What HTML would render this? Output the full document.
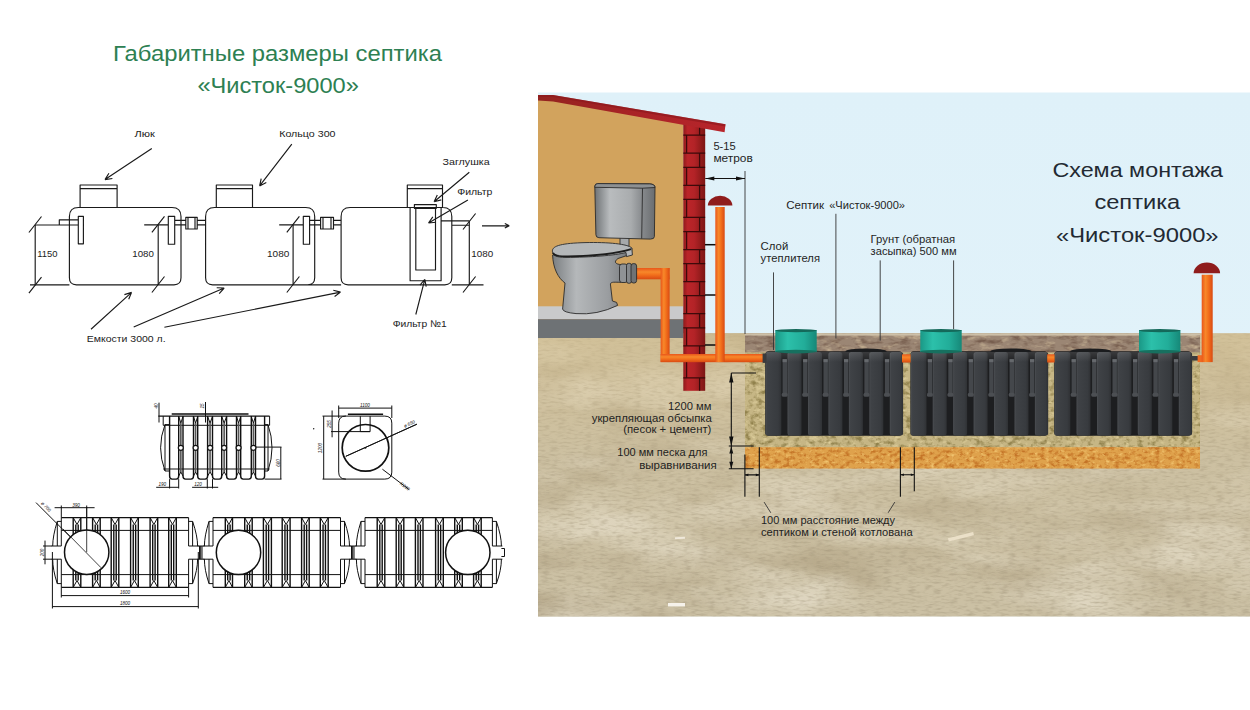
<!DOCTYPE html>
<html lang="ru">
<head>
<meta charset="utf-8">
<title>Габаритные размеры септика «Чисток-9000»</title>
<style>
html,body{margin:0;padding:0;background:#fff;}
body{width:1250px;height:710px;overflow:hidden;font-family:"Liberation Sans",sans-serif;}
svg{display:block;}
.lbl{font-family:"Liberation Sans",sans-serif;font-size:10.4px;fill:#1f1f1f;}
.dl{font-family:"Liberation Sans",sans-serif;font-size:9.8px;fill:#222;}
.tiny{font-family:"Liberation Sans",sans-serif;font-size:4.6px;fill:#111;font-style:italic;}
.ln{stroke:#1a1a1a;stroke-width:1;fill:none;}
.tk{stroke:#111;stroke-width:0.8;fill:none;}
</style>
</head>
<body>
<svg width="1250" height="710" viewBox="0 0 1250 710">
<defs>

<linearGradient id="gBrick" x1="0" x2="1" y1="0" y2="0">
 <stop offset="0" stop-color="#8f1a1c"/><stop offset="0.2" stop-color="#bb2529"/><stop offset="0.5" stop-color="#b32327"/><stop offset="1" stop-color="#7c1614"/>
</linearGradient>
<linearGradient id="gPipeV" x1="0" x2="1" y1="0" y2="0">
 <stop offset="0" stop-color="#e9561a"/><stop offset="0.35" stop-color="#f7882a"/><stop offset="0.6" stop-color="#f3701c"/><stop offset="1" stop-color="#d94a12"/>
</linearGradient>
<linearGradient id="gPipeH" x1="0" x2="0" y1="0" y2="1">
 <stop offset="0" stop-color="#e9561a"/><stop offset="0.35" stop-color="#f7882a"/><stop offset="0.6" stop-color="#f3701c"/><stop offset="1" stop-color="#d94a12"/>
</linearGradient>
<linearGradient id="gTankT" x1="0" x2="1" y1="0" y2="0">
 <stop offset="0" stop-color="#6f7376"/><stop offset="0.25" stop-color="#b9bcbe"/><stop offset="0.6" stop-color="#a9acae"/><stop offset="0.8" stop-color="#85888b"/><stop offset="1" stop-color="#6a6d70"/>
</linearGradient>
<linearGradient id="gBowl" x1="0" x2="1" y1="0" y2="0">
 <stop offset="0" stop-color="#7b7f82"/><stop offset="0.3" stop-color="#b5b8ba"/><stop offset="0.7" stop-color="#9a9da0"/><stop offset="1" stop-color="#707376"/>
</linearGradient>
<linearGradient id="gCap" x1="0" x2="1" y1="0" y2="0">
 <stop offset="0" stop-color="#1a9886"/><stop offset="0.3" stop-color="#2cc0aa"/><stop offset="0.7" stop-color="#22ad99"/><stop offset="1" stop-color="#168878"/>
</linearGradient>
<linearGradient id="gRib" x1="0" x2="1" y1="0" y2="0">
 <stop offset="0" stop-color="#4a4d51"/><stop offset="0.12" stop-color="#3f4246"/><stop offset="0.8" stop-color="#383b3f"/><stop offset="1" stop-color="#2f3134"/>
</linearGradient>
<linearGradient id="gTopHi" x1="0" x2="0" y1="0" y2="1">
 <stop offset="0" stop-color="#ffffff" stop-opacity="0.13"/><stop offset="1" stop-color="#ffffff" stop-opacity="0"/>
</linearGradient>
<linearGradient id="gWarm" x1="0" x2="0" y1="0" y2="1">
 <stop offset="0" stop-color="#d6c08e" stop-opacity="0.55"/><stop offset="0.45" stop-color="#d6c08e" stop-opacity="0.12"/><stop offset="1" stop-color="#d6c08e" stop-opacity="0"/>
</linearGradient>
<linearGradient id="gRoof" x1="0" x2="1" y1="0" y2="0">
 <stop offset="0" stop-color="#93231f"/><stop offset="0.5" stop-color="#a82326"/><stop offset="1" stop-color="#b8252b"/>
</linearGradient>
<linearGradient id="gSky" x1="0" x2="0" y1="0" y2="1">
 <stop offset="0" stop-color="#dff1f9"/><stop offset="1" stop-color="#e3f3fa"/>
</linearGradient>
<filter id="fGround" x="0" y="0" width="100%" height="100%" color-interpolation-filters="sRGB">
 <feTurbulence type="fractalNoise" baseFrequency="0.007 0.022" numOctaves="4" seed="7" result="n1"/>
 <feColorMatrix in="n1" type="matrix" values="0 0 0 0 0.66  0 0 0 0 0.60  0 0 0 0 0.48  2.2 0 0 0 -1.0" result="dark"/>
 <feColorMatrix in="n1" type="matrix" values="0 0 0 0 0.89  0 0 0 0 0.86  0 0 0 0 0.78  0 -2.6 0 0 1.45" result="light"/>
 <feTurbulence type="fractalNoise" baseFrequency="0.12 0.5" numOctaves="2" seed="21" result="n2"/>
 <feColorMatrix in="n2" type="matrix" values="0 0 0 0 0.55  0 0 0 0 0.50  0 0 0 0 0.40  0 0 1.0 0 -0.44" result="grain"/>
 <feMerge result="m"><feMergeNode in="dark"/><feMergeNode in="light"/><feMergeNode in="grain"/></feMerge>
 <feComposite in="m" in2="SourceGraphic" operator="in"/>
</filter>
<filter id="fGrain" x="0" y="0" width="100%" height="100%" color-interpolation-filters="sRGB">
 <feTurbulence type="fractalNoise" baseFrequency="0.16 0.22" numOctaves="3" seed="3" result="n"/>
 <feColorMatrix in="n" type="matrix" values="0 0 0 0 0.55  0 0 0 0 0.49  0 0 0 0 0.28  2.8 0 0 0 -1.25" result="d"/>
 <feColorMatrix in="n" type="matrix" values="0 0 0 0 0.88  0 0 0 0 0.82  0 0 0 0 0.62  0 -3.2 0 0 1.45" result="l"/>
 <feMerge result="m"><feMergeNode in="d"/><feMergeNode in="l"/></feMerge>
 <feComposite in="m" in2="SourceGraphic" operator="in"/>
</filter>
<filter id="fGrainO" x="0" y="0" width="100%" height="100%" color-interpolation-filters="sRGB">
 <feTurbulence type="fractalNoise" baseFrequency="0.2 0.28" numOctaves="3" seed="11" result="n"/>
 <feColorMatrix in="n" type="matrix" values="0 0 0 0 0.76  0 0 0 0 0.44  0 0 0 0 0.14  3.0 0 0 0 -1.35" result="d"/>
 <feColorMatrix in="n" type="matrix" values="0 0 0 0 0.95  0 0 0 0 0.78  0 0 0 0 0.45  0 -3.2 0 0 1.4" result="l"/>
 <feMerge result="m"><feMergeNode in="d"/><feMergeNode in="l"/></feMerge>
 <feComposite in="m" in2="SourceGraphic" operator="in"/>
</filter>
<filter id="fGrainB" x="0" y="0" width="100%" height="100%" color-interpolation-filters="sRGB">
 <feTurbulence type="fractalNoise" baseFrequency="0.09 0.2" numOctaves="3" seed="5" result="n"/>
 <feColorMatrix in="n" type="matrix" values="0 0 0 0 0.45  0 0 0 0 0.35  0 0 0 0 0.29  2.6 0 0 0 -1.2" result="d"/>
 <feColorMatrix in="n" type="matrix" values="0 0 0 0 0.78  0 0 0 0 0.70  0 0 0 0 0.58  0 -3.2 0 0 1.45" result="l"/>
 <feMerge result="m"><feMergeNode in="d"/><feMergeNode in="l"/></feMerge>
 <feComposite in="m" in2="SourceGraphic" operator="in"/>
</filter>
<marker id="ah" viewBox="0 0 10 10" refX="9" refY="5" markerWidth="7" markerHeight="7" orient="auto-start-reverse">
 <path d="M1,1 L9,5 L1,9" fill="none" stroke="#1a1a1a" stroke-width="1.3"/>
</marker>

</defs>
<rect width="1250" height="710" fill="#fff"/>
<g font-family="Liberation Sans, sans-serif" font-size="21.4" fill="#2d8052">
<text x="113" y="61" textLength="329" lengthAdjust="spacingAndGlyphs">Габаритные размеры септика</text>
<text x="197.4" y="92.8" textLength="161.5" lengthAdjust="spacingAndGlyphs">«Чисток-9000»</text>
</g>
<g id="diagram" stroke="#1a1a1a" stroke-width="1.15" fill="none" stroke-linejoin="round">
<path d="M78.4,207.5 H172 Q181,207.5 181,216.5 V277.8 Q181,284.8 174,284.8 H76.4 Q69.4,284.8 69.4,277.8 V216.5 Q69.4,207.5 78.4,207.5 Z M214.6,207.5 H305.7 Q314.7,207.5 314.7,216.5 V277.8 Q314.7,284.8 307.7,284.8 H212.6 Q205.6,284.8 205.6,277.8 V216.5 Q205.6,207.5 214.6,207.5 Z M350.1,207.5 H442.8 Q451.8,207.5 451.8,216.5 V277.8 Q451.8,284.8 444.8,284.8 H348.1 Q341.1,284.8 341.1,277.8 V216.5 Q341.1,207.5 350.1,207.5 Z M80.1,207.5V185H117.1V207.5 M80.1,188.6H117.1 M216.3,207.5V185H252.5V207.5 M216.3,188.6H252.5 M407.3,207.5V185H442.5V207.5 M407.3,188.6H442.5 M78.3,219.8H59.3V225H78.3 M78.3,216.3H83.4V243.8H78.3Z M35.2,225V284.8 M35.2,225H59.3 M30,284.8H69.4 M158.2,224.8V284.8 M144.2,224.8H168.3 M168.3,216.3H174.7V244.2H168.3Z M174.7,220.3H185.8 M174.7,224.8H185.8 M185.8,217.3H197.2V229H185.8Z M188,217.3V229 M195,217.3V229 M197.2,220.3H205.6 M197.2,224.8H205.6 M293.1,224.8V284.8 M279.2,224.8H303.3 M303.3,216.3H309.6V244.2H303.3Z M309.6,220.3H320.6 M309.6,224.8H320.6 M320.6,217.3H333.5V229H320.6Z M323,217.3V229 M331,217.3V229 M333.5,220.3H341.1 M333.5,224.8H341.1 M293.1,284.8H341.1 M451.8,284.8H483.5 M410.1,207.5V280.7H441.1V207.5 M415.8,208.3V270H435.5V208.3 M414.4,204.6H436.3V208.3H414.4Z M441.1,220.8H469.3 M451.8,225.2H469.3 M469.3,220.8V284.8"/>
<path d="M28.900000000000002,232.5L41.5,216.5 M28.900000000000002,293.1L41.5,277.1 M151.89999999999998,232.3L164.5,216.3 M151.89999999999998,292.5L164.5,276.5 M286.8,232.3L299.40000000000003,216.3 M286.8,292.5L299.40000000000003,276.5 M463.0,229.5L475.6,213.5 M463.0,292.5L475.6,276.5"/>
<path d="M151.8,148.4L105.0,179.6 M105.0,179.6L108.9,173.2 M105.0,179.6L112.4,178.5 M291.8,144.1L259.6,185.9 M259.6,185.9L261.2,178.6 M259.6,185.9L266.3,182.4 M469.3,172.3L434.1,201.8 M434.1,201.8L437.3,195.0 M434.1,201.8L441.3,199.9 M467.9,199.9L428.5,223.0 M428.5,223.0L432.8,216.8 M428.5,223.0L436.0,222.3 M415.8,314.5L424.8,279.3 M424.8,279.3L426.2,286.7 M424.8,279.3L420.0,285.1 M91.0,329.2L131.6,292.4 M131.6,292.4L128.7,299.3 M131.6,292.4L124.4,294.6 M133.7,327.0L224.2,288.0 M224.2,288.0L219.2,293.6 M224.2,288.0L216.7,287.8 M164.4,327.3L340.6,292.1 M340.6,292.1L334.6,296.5 M340.6,292.1L333.3,290.3 M482.0,225.8L509.3,225.8 M509.3,225.8L504.8,228.0 M509.3,225.8L504.8,223.6"/>
</g>
<text x="134.6" y="136.5" class="dl" textLength="20.3" lengthAdjust="spacingAndGlyphs">Люк</text>
<text x="279.2" y="136.5" class="dl" textLength="56.3" lengthAdjust="spacingAndGlyphs">Кольцо 300</text>
<text x="442.5" y="165.2" class="dl" textLength="47.1" lengthAdjust="spacingAndGlyphs">Заглушка</text>
<text x="457.2" y="195.2" class="dl" textLength="35.2" lengthAdjust="spacingAndGlyphs">Фильтр</text>
<text x="392.7" y="326.6" class="dl" textLength="54.1" lengthAdjust="spacingAndGlyphs">Фильтр №1</text>
<text x="86.8" y="341.6" class="dl" textLength="78.8" lengthAdjust="spacingAndGlyphs">Емкости 3000 л.</text>
<text x="37.2" y="256.9" class="dl" textLength="20.3" lengthAdjust="spacingAndGlyphs">1150</text>
<text x="132.3" y="256.9" class="dl" textLength="21.6" lengthAdjust="spacingAndGlyphs">1080</text>
<text x="267" y="256.9" class="dl" textLength="22.3" lengthAdjust="spacingAndGlyphs">1080</text>
<text x="471.3" y="256.9" class="dl" textLength="21.9" lengthAdjust="spacingAndGlyphs">1080</text><g id="drawings" stroke="#111" fill="none" stroke-linejoin="round">
<path d="M169.6,424.6 H165 Q160.6,436 160.6,447.8 Q160.6,459 165,471 H169.6 M264.6,424.6 H268 Q272,436 272,447.8 Q272,459 268,471 H264.6 M165,424.6V471 M268,424.6V471 M163.2,425.3H269.6 M163.2,469H269.6 M163.2,416.1V425.3 M269.6,416.1V425.3 M178.7,416.5L180.85,423 L183,416.5 M178.7,476L180.85,472L183,476 M193.5,416.5L195.6,423 L197.7,416.5 M193.5,476L195.6,472L197.7,476 M207.6,416.5L210.05,423 L212.5,416.5 M207.6,476L210.05,472L212.5,476 M221.7,416.5L224.14999999999998,423 L226.6,416.5 M221.7,476L224.14999999999998,472L226.6,476 M236.5,416.5L238.6,423 L240.7,416.5 M236.5,476L238.6,472L240.7,476 M251.3,416.5L253.4,423 L255.5,416.5 M251.3,476L253.4,472L255.5,476 M159,402.7V422.5 M205.5,402V422.5 M254,447.1H281.5 M264.6,479.1H281.5 M280.8,447.1V479.1 M169.6,479.1V488.5 M178.7,479.1V488.5 M156.2,487.3H178.7 M207.3,479.1V488.5 M212.5,479.1V488.5 M192.1,487.3H218.2 M345.7,416.1 H384.8 Q391.8,416.1 391.8,423.1 V472.1 Q391.8,479.1 384.8,479.1 H345.7 Q338.7,479.1 338.7,472.1 V423.1 Q338.7,416.1 345.7,416.1Z M360.3,416.1V431.6H370.1V416.1 M338.7,405.5V418 M391.8,405.5V418 M338.7,408.1H391.8 M323.7,416.1V479.1 M322.5,416.1H346 M322.5,479.1H346 M332.1,410.5V437.3 M331,431.6H370.1 M345.8,456.3L416.9,424.2 M382.4,469.2L409.2,489.6 M61.3,517.6V546 M61.3,559.2V587.4 M188.6,517.6V546 M188.6,559.2V587.4 M61.3,521.4 H57.3 Q52.699999999999996,536 52.699999999999996,546 M52.699999999999996,559.2 Q52.699999999999996,570 57.3,583.6 H61.3 M57.3,521.4V546 M57.3,559.2V583.6 M188.6,521.4 H192.6 Q197.6,536 197.6,546 M197.6,559.2 Q197.6,570 192.6,583.6 H188.6 M192.6,521.4V546 M192.6,559.2V583.6 M51.699999999999996,546H61.3 M51.699999999999996,559.2H61.3 M188.6,546H198.6 M188.6,559.2H198.6 M61.3,530.4H188.6 M61.3,574.6H188.6 M73.2,517.6L77.0,524.5L80.8,517.6 M73.2,587.4L77.0,580.5L80.8,587.4 M92.6,517.6L96.4,524.5L100.2,517.6 M92.6,587.4L96.4,580.5L100.2,587.4 M111.2,517.6L115.0,524.5L118.8,517.6 M111.2,587.4L115.0,580.5L118.8,587.4 M130.6,517.6L134.45,524.5L138.3,517.6 M130.6,587.4L134.45,580.5L138.3,587.4 M150.1,517.6L153.89999999999998,524.5L157.7,517.6 M150.1,587.4L153.89999999999998,580.5L157.7,587.4 M168.7,517.6L172.5,524.5L176.3,517.6 M168.7,587.4L172.5,580.5L176.3,587.4 M213,517.6V546 M213,559.2V587.4 M340.5,517.6V546 M340.5,559.2V587.4 M213,521.4 H209 Q204.4,536 204.4,546 M204.4,559.2 Q204.4,570 209,583.6 H213 M209,521.4V546 M209,559.2V583.6 M340.5,521.4 H344.5 Q349.5,536 349.5,546 M349.5,559.2 Q349.5,570 344.5,583.6 H340.5 M344.5,521.4V546 M344.5,559.2V583.6 M203.4,546H213 M203.4,559.2H213 M340.5,546H350.5 M340.5,559.2H350.5 M213,530.4H340.5 M213,574.6H340.5 M225.3,517.6L228.9,524.5L232.5,517.6 M225.3,587.4L228.9,580.5L232.5,587.4 M244.7,517.6L248.45,524.5L252.2,517.6 M244.7,587.4L248.45,580.5L252.2,587.4 M263.4,517.6L267.4,524.5L271.4,517.6 M263.4,587.4L267.4,580.5L271.4,587.4 M282.2,517.6L286.15,524.5L290.1,517.6 M282.2,587.4L286.15,580.5L290.1,587.4 M301.6,517.6L305.4,524.5L309.2,517.6 M301.6,587.4L305.4,580.5L309.2,587.4 M320.3,517.6L324.25,524.5L328.2,517.6 M320.3,587.4L324.25,580.5L328.2,587.4 M365,517.6V546 M365,559.2V587.4 M492.4,517.6V546 M492.4,559.2V587.4 M365,521.4 H361 Q356.4,536 356.4,546 M356.4,559.2 Q356.4,570 361,583.6 H365 M361,521.4V546 M361,559.2V583.6 M492.4,521.4 H496.4 Q501.4,536 501.4,546 M501.4,559.2 Q501.4,570 496.4,583.6 H492.4 M496.4,521.4V546 M496.4,559.2V583.6 M355.4,546H365 M355.4,559.2H365 M492.4,546H502.4 M492.4,559.2H502.4 M365,530.4H492.4 M365,574.6H492.4 M377.2,517.6L381.0,524.5L384.8,517.6 M377.2,587.4L381.0,580.5L384.8,587.4 M396.2,517.6L400.0,524.5L403.8,517.6 M396.2,587.4L400.0,580.5L403.8,587.4 M415.4,517.6L419.2,524.5L423,517.6 M415.4,587.4L419.2,580.5L423,587.4 M435.6,517.6L439.45000000000005,524.5L443.3,517.6 M435.6,587.4L439.45000000000005,580.5L443.3,587.4 M454.7,517.6L458.5,524.5L462.3,517.6 M454.7,587.4L458.5,580.5L462.3,587.4 M473.6,517.6L477.4,524.5L481.2,517.6 M473.6,587.4L477.4,580.5L481.2,587.4 M197.6,546H204.4 M197.6,559.2H204.4 M199.5,546V559.2 M200.7,546V559.2 M202,546V559.2 M349.5,546H356.4 M349.5,559.2H356.4 M351.5,546V559.2 M352.7,546V559.2 M354,546V559.2 M501.4,548.5H504.5V556.5H501.4 M54.6,507.7H94.6 M61.3,505.5V517.6 M86.7,505.5V552.2 M36,502.6L101,567.7 M45,540.6V564.3 M43,546H52 M43,559.2H52 M61.3,587.4V597.5 M188.6,587.4V597.5 M61.3,595.6H188.6 M52.4,552V608.5 M198.3,552V608.5 M52.4,606.6H198.3" stroke-width="1"/>
<path d="M158.3,416.1H269.6 M171.7,414H248.5 M169.6,416.5V476 Q169.6,479.1 172.1,479.1 H176.2 Q178.7,479.1 178.7,476 V416.5 M183,416.5V476 Q183,479.1 185.5,479.1 H191.0 Q193.5,479.1 193.5,476 V416.5 M197.7,416.5V476 Q197.7,479.1 200.2,479.1 H205.1 Q207.6,479.1 207.6,476 V416.5 M212.5,416.5V476 Q212.5,479.1 215.0,479.1 H219.2 Q221.7,479.1 221.7,476 V416.5 M226.6,416.5V476 Q226.6,479.1 229.1,479.1 H234.0 Q236.5,479.1 236.5,476 V416.5 M240.7,416.5V476 Q240.7,479.1 243.2,479.1 H248.8 Q251.3,479.1 251.3,476 V416.5 M255.5,416.5V476 Q255.5,479.1 258.0,479.1 H262.1 Q264.6,479.1 264.6,476 V416.5 M347.9,414.3H383.1 M61.3,517.6H188.6 M61.3,587.4H188.6 M73.2,517.6V587.4 M80.8,517.6V587.4 M75.8,524.5V580.5 M78.2,524.5V580.5 M92.6,517.6V587.4 M100.2,517.6V587.4 M95.2,524.5V580.5 M97.60000000000001,524.5V580.5 M111.2,517.6V587.4 M118.8,517.6V587.4 M113.8,524.5V580.5 M116.2,524.5V580.5 M130.6,517.6V587.4 M138.3,517.6V587.4 M133.25,524.5V580.5 M135.64999999999998,524.5V580.5 M150.1,517.6V587.4 M157.7,517.6V587.4 M152.7,524.5V580.5 M155.09999999999997,524.5V580.5 M168.7,517.6V587.4 M176.3,517.6V587.4 M171.3,524.5V580.5 M173.7,524.5V580.5 M213,517.6H340.5 M213,587.4H340.5 M225.3,517.6V587.4 M232.5,517.6V587.4 M227.70000000000002,524.5V580.5 M230.1,524.5V580.5 M244.7,517.6V587.4 M252.2,517.6V587.4 M247.25,524.5V580.5 M249.64999999999998,524.5V580.5 M263.4,517.6V587.4 M271.4,517.6V587.4 M266.2,524.5V580.5 M268.59999999999997,524.5V580.5 M282.2,517.6V587.4 M290.1,517.6V587.4 M284.95,524.5V580.5 M287.34999999999997,524.5V580.5 M301.6,517.6V587.4 M309.2,517.6V587.4 M304.2,524.5V580.5 M306.59999999999997,524.5V580.5 M320.3,517.6V587.4 M328.2,517.6V587.4 M323.05,524.5V580.5 M325.45,524.5V580.5 M365,517.6H492.4 M365,587.4H492.4 M377.2,517.6V587.4 M384.8,517.6V587.4 M379.8,524.5V580.5 M382.2,524.5V580.5 M396.2,517.6V587.4 M403.8,517.6V587.4 M398.8,524.5V580.5 M401.2,524.5V580.5 M415.4,517.6V587.4 M423,517.6V587.4 M418.0,524.5V580.5 M420.4,524.5V580.5 M435.6,517.6V587.4 M443.3,517.6V587.4 M438.25000000000006,524.5V580.5 M440.65000000000003,524.5V580.5 M454.7,517.6V587.4 M462.3,517.6V587.4 M457.3,524.5V580.5 M459.7,524.5V580.5 M473.6,517.6V587.4 M481.2,517.6V587.4 M476.2,524.5V580.5 M478.59999999999997,524.5V580.5" stroke-width="1.4"/>
<path d="M180.85,423V445 M180.85,450.6V472 M195.6,423V445 M195.6,450.6V472 M210.05,423V445 M210.05,450.6V472 M224.14999999999998,423V445 M224.14999999999998,450.6V472 M238.6,423V445 M238.6,450.6V472 M253.4,423V445 M253.4,450.6V472" stroke-width="1.6" stroke="#555"/>
<circle cx="180.8" cy="447.8" r="2.5" fill="#fff" stroke-width="1.2"/>
<circle cx="195.6" cy="447.8" r="2.5" fill="#fff" stroke-width="1.2"/>
<circle cx="210.1" cy="447.8" r="2.5" fill="#fff" stroke-width="1.2"/>
<circle cx="224.1" cy="447.8" r="2.5" fill="#fff" stroke-width="1.2"/>
<circle cx="238.6" cy="447.8" r="2.5" fill="#fff" stroke-width="1.2"/>
<circle cx="253.4" cy="447.8" r="2.5" fill="#fff" stroke-width="1.2"/>
<circle cx="365.5" cy="447.8" r="23.3" stroke-width="1.7"/>
<circle cx="86.7" cy="552.2" r="22.2" fill="#fff" stroke-width="1.5"/>
<circle cx="238.5" cy="552.4" r="22.2" fill="#fff" stroke-width="1.5"/>
<circle cx="467.8" cy="552.4" r="22.2" fill="#fff" stroke-width="1.5"/>
<path d="M86.7,507V552.2 M63,529L101,567.7" stroke-width="0.8"/>
<path d="M345.8,456.3L416.9,424.2" stroke-width="0.9"/>
<circle cx="365.5" cy="447.8" r="0.9" fill="#111" stroke="none"/>
<circle cx="313.7" cy="428.8" r="0.7" fill="#111" stroke="none"/>
</g>
<text x="157.8" y="406" class="tiny" text-anchor="middle" transform="rotate(-90 157.8 406)">40</text>
<text x="204.3" y="406" class="tiny" text-anchor="middle" transform="rotate(-90 204.3 406)">15</text>
<text x="279.5" y="463" class="tiny" text-anchor="middle" transform="rotate(-90 279.5 463)">660</text>
<text x="162.3" y="485.8" class="tiny" text-anchor="middle">190</text>
<text x="198" y="485.8" class="tiny" text-anchor="middle">120</text>
<text x="365" y="406.5" class="tiny" text-anchor="middle">1100</text>
<text x="322.3" y="448" class="tiny" text-anchor="middle" transform="rotate(-90 322.3 448)">1200</text>
<text x="330.8" y="424" class="tiny" text-anchor="middle" transform="rotate(-90 330.8 424)">255</text>
<text x="410" y="425.3" class="tiny" text-anchor="middle" transform="rotate(-24 410 425.3)">ø 650</text>
<text x="404" y="487.5" class="tiny" text-anchor="middle" transform="rotate(37 404 487.5)">R200</text>
<text x="76" y="506.6" class="tiny" text-anchor="middle">390</text>
<text x="45" y="507.8" class="tiny" text-anchor="middle" transform="rotate(45 45 507.8)">ø 700</text>
<text x="43.6" y="552.5" class="tiny" text-anchor="middle" transform="rotate(-90 43.6 552.5)">200</text>
<text x="125" y="594.3" class="tiny" text-anchor="middle">1600</text>
<text x="125" y="605.3" class="tiny" text-anchor="middle">1800</text>
<g id="illustration">
<rect x="538" y="92.5" width="712" height="523.9" fill="url(#gSky)"/>
<polygon points="538,96 683.5,118 683.5,338 538,338" fill="#d2a35d"/>
<rect x="538" y="306.3" width="146" height="13" fill="#c9cacb"/>
<rect x="538" y="319.2" width="146" height="19" fill="#6e7275"/>
<path d="M538,338 H683.5 V333.2 H1250 V616.4 H538 Z" fill="#cbc0a4"/>
<path d="M538,338 H683.5 V333.2 H1250 V616.4 H538 Z" fill="#000" filter="url(#fGround)" opacity="0.8"/>
<path d="M538,338 H683.5 V333.2 H1250 V616.4 H538 Z" fill="url(#gWarm)"/>
<rect x="745" y="333.2" width="455" height="19.5" fill="#9b8674"/>
<rect x="745" y="333.2" width="455" height="19.5" fill="#000" filter="url(#fGrainB)" opacity="0.9"/>
<rect x="745" y="333.2" width="455" height="2.4" fill="#d3c6ae" opacity="0.9"/>
<rect x="745" y="352.5" width="455" height="95" fill="#c6b685"/>
<rect x="745" y="352.5" width="455" height="95" fill="#000" filter="url(#fGrain)" opacity="0.9"/>
<rect x="745" y="447.2" width="455" height="21.3" fill="#dfa24c"/>
<rect x="745" y="447.2" width="455" height="21.3" fill="#000" filter="url(#fGrainO)" opacity="0.9"/>
<rect x="683.3" y="122" width="21.9" height="268.8" fill="url(#gBrick)"/>
<path d="M683.3,135.2H705.2 M683.3,153.2H705.2 M683.3,167.3H705.2 M683.3,185.3H705.2 M683.3,199.4H705.2 M683.3,217.4H705.2 M683.3,231.5H705.2 M683.3,249.5H705.2 M683.3,263.6H705.2 M683.3,281.6H705.2 M683.3,295.7H705.2 M683.3,313.7H705.2 M683.3,327.8H705.2 M683.3,345.8H705.2 M683.3,359.9H705.2 M683.3,377.9H705.2 M699.6,122.0V135.2 M686.6,135.2V153.2 M699.6,153.2V167.3 M686.6,167.3V185.3 M699.6,185.3V199.4 M686.6,199.4V217.4 M699.6,217.4V231.5 M686.6,231.5V249.5 M699.6,249.5V263.6 M686.6,263.6V281.6 M699.6,281.6V295.7 M686.6,295.7V313.7 M699.6,313.7V327.8 M686.6,327.8V345.8 M699.6,345.8V359.9 M686.6,359.9V377.9 M699.6,377.9V390.8" stroke="#300808" stroke-width="1.25" fill="none" opacity="0.9"/>
<polygon points="538,95 553,95 725.5,124.3 724.6,132.2 553,101.5 538,100.5" fill="url(#gRoof)"/>
<polygon points="538,95 553,95 725.5,124.3 725.2,126.5 553,97 538,97" fill="#8a181c" opacity="0.6"/>
<path d="M705,244.7H716" stroke="#0c0c0c" stroke-width="1.5"/>
<path d="M705,295H716" stroke="#0c0c0c" stroke-width="1.5"/>
<path d="M705,345H716" stroke="#0c0c0c" stroke-width="1.5"/>
<rect x="636" y="268" width="33.6" height="11.3" fill="url(#gPipeH)"/>
<rect x="660.6" y="268" width="9" height="94" fill="url(#gPipeV)"/>
<rect x="660.6" y="354" width="104" height="8.2" fill="url(#gPipeH)"/>
<rect x="715.3" y="207" width="9.4" height="155" fill="url(#gPipeV)"/>
<path d="M707.8,205.6 A12.3,9.8 0 0 1 732.4,205.6 Z" fill="#8f1c1c"/>
<g id="toilet" stroke="#2b2b2b" stroke-width="0.9" stroke-linejoin="round">
<path d="M620,237.5 h9 v9 h-9 z" fill="#a5a8aa"/>
<path d="M594.8,186.5 q0,-2.8 3,-2.9 l52,0.3 q5.2,0.3 5.2,3.6 l-0.6,49 q0,2.6 -4,2.6 l-51.5,-1.4 q-3,-0.2 -3,-3 z" fill="url(#gTankT)"/>
<path d="M594.8,186.5 q0,-2.8 3,-2.9 l52,0.3 q5.2,0.3 5.2,3.6 l-12.5,0.7 l-47.7,-0.9 z" fill="#8d9092"/>
<path d="M642.5,188.2 l-0.8,50.4" fill="none"/>
<path d="M552.6,255 C553,268 558,278 565,283 L562.6,309 Q563,312.4 576,313.6 Q597,315.4 617.6,305.4 L616.6,302.4 L612.4,301 L610.4,284 C611,281.5 615,282.3 621,282.3 L621,264.5 C616,264.5 613,262 618,258.5 L631.5,254 L631.8,248 Z" fill="url(#gBowl)"/>
<path d="M552.4,251.2 C552,245.5 563,243.2 585,242.6 C608,242 628,244 631.8,248 L632.4,255 L626.5,256.6 L626,252.5 C615,255.5 590,257.3 566,257.4 C556,257.4 552.6,255.5 552.4,251.2 Z" fill="#b4b7b9"/>
<path d="M553,252.8 C554,256 560,256.6 568,256.4 C592,256 616,254 631,249.2" fill="none" stroke="#1d1d1d" stroke-width="1.8"/>
<rect x="619.5" y="264" width="8" height="18.5" rx="2.5" fill="#8f9295"/>
<rect x="626.5" y="263.3" width="5" height="20" rx="2.2" fill="#85888b"/>
<rect x="631" y="263.6" width="5.6" height="19.4" rx="2.4" fill="#6f7275"/>
</g>
<ellipse cx="866.0" cy="351.6" rx="20.6" ry="3.2" fill="#1b1c1e"/>
<path d="M768.2,351.2 H899.2 Q902.2,351.2 902.2,355.2 V432.8 Q902.2,435.8 899.2,435.8 H768.2 Q765.2,435.8 765.2,432.8 V355.2 Q765.2,351.2 768.2,351.2 Z" fill="#1d1e20"/>
<rect x="765.5" y="352.0" width="15.8" height="83.4" rx="2.5" fill="url(#gRib)"/>
<rect x="787.5" y="352.0" width="14.0" height="83.4" rx="2.5" fill="url(#gRib)"/>
<rect x="808.0" y="352.0" width="14.0" height="83.4" rx="2.5" fill="url(#gRib)"/>
<rect x="828.4" y="352.0" width="14.0" height="83.4" rx="2.5" fill="url(#gRib)"/>
<rect x="848.9" y="352.0" width="14.0" height="83.4" rx="2.5" fill="url(#gRib)"/>
<rect x="869.3" y="352.0" width="14.0" height="83.4" rx="2.5" fill="url(#gRib)"/>
<rect x="889.8" y="352.0" width="13.3" height="83.4" rx="2.5" fill="url(#gRib)"/>
<rect x="782.6" y="359.2" width="4.4" height="36" fill="#44474b"/>
<rect x="782.6" y="359.2" width="4.2" height="3" fill="#63666a"/>
<rect x="781.8" y="392.7" width="5.8" height="4" rx="1.5" fill="#4c4f53"/>
<rect x="803.1" y="359.2" width="4.4" height="36" fill="#44474b"/>
<rect x="803.1" y="359.2" width="4.2" height="3" fill="#63666a"/>
<rect x="802.3" y="392.7" width="5.8" height="4" rx="1.5" fill="#4c4f53"/>
<rect x="823.5" y="359.2" width="4.4" height="36" fill="#44474b"/>
<rect x="823.5" y="359.2" width="4.2" height="3" fill="#63666a"/>
<rect x="822.7" y="392.7" width="5.8" height="4" rx="1.5" fill="#4c4f53"/>
<rect x="844.0" y="359.2" width="4.4" height="36" fill="#44474b"/>
<rect x="844.0" y="359.2" width="4.2" height="3" fill="#63666a"/>
<rect x="843.2" y="392.7" width="5.8" height="4" rx="1.5" fill="#4c4f53"/>
<rect x="864.4" y="359.2" width="4.4" height="36" fill="#44474b"/>
<rect x="864.4" y="359.2" width="4.2" height="3" fill="#63666a"/>
<rect x="863.6" y="392.7" width="5.8" height="4" rx="1.5" fill="#4c4f53"/>
<rect x="884.9" y="359.2" width="4.4" height="36" fill="#44474b"/>
<rect x="884.9" y="359.2" width="4.2" height="3" fill="#63666a"/>
<rect x="884.1" y="392.7" width="5.8" height="4" rx="1.5" fill="#4c4f53"/>
<rect x="765.7" y="352.0" width="136.0" height="10" fill="url(#gTopHi)"/>
<rect x="775.3" y="330" width="41.4" height="22" fill="url(#gCap)"/>
<ellipse cx="796.0" cy="351.6" rx="20.7" ry="1.8" fill="#17705f"/>
<ellipse cx="796.0" cy="330.6" rx="20.7" ry="1.6" fill="#14695a"/>
<ellipse cx="1010.9" cy="351.6" rx="20.6" ry="3.2" fill="#1b1c1e"/>
<path d="M913.4,351.2 H1044.4 Q1047.4,351.2 1047.4,355.2 V432.8 Q1047.4,435.8 1044.4,435.8 H913.4 Q910.4,435.8 910.4,432.8 V355.2 Q910.4,351.2 913.4,351.2 Z" fill="#1d1e20"/>
<rect x="910.7" y="352.0" width="15.8" height="83.4" rx="2.5" fill="url(#gRib)"/>
<rect x="932.7" y="352.0" width="14.0" height="83.4" rx="2.5" fill="url(#gRib)"/>
<rect x="953.1" y="352.0" width="14.0" height="83.4" rx="2.5" fill="url(#gRib)"/>
<rect x="973.6" y="352.0" width="14.0" height="83.4" rx="2.5" fill="url(#gRib)"/>
<rect x="994.0" y="352.0" width="14.0" height="83.4" rx="2.5" fill="url(#gRib)"/>
<rect x="1014.5" y="352.0" width="14.0" height="83.4" rx="2.5" fill="url(#gRib)"/>
<rect x="1034.9" y="352.0" width="13.3" height="83.4" rx="2.5" fill="url(#gRib)"/>
<rect x="927.8" y="359.2" width="4.4" height="36" fill="#44474b"/>
<rect x="927.8" y="359.2" width="4.2" height="3" fill="#63666a"/>
<rect x="927.0" y="392.7" width="5.8" height="4" rx="1.5" fill="#4c4f53"/>
<rect x="948.3" y="359.2" width="4.4" height="36" fill="#44474b"/>
<rect x="948.3" y="359.2" width="4.2" height="3" fill="#63666a"/>
<rect x="947.5" y="392.7" width="5.8" height="4" rx="1.5" fill="#4c4f53"/>
<rect x="968.7" y="359.2" width="4.4" height="36" fill="#44474b"/>
<rect x="968.7" y="359.2" width="4.2" height="3" fill="#63666a"/>
<rect x="967.9" y="392.7" width="5.8" height="4" rx="1.5" fill="#4c4f53"/>
<rect x="989.2" y="359.2" width="4.4" height="36" fill="#44474b"/>
<rect x="989.2" y="359.2" width="4.2" height="3" fill="#63666a"/>
<rect x="988.4" y="392.7" width="5.8" height="4" rx="1.5" fill="#4c4f53"/>
<rect x="1009.6" y="359.2" width="4.4" height="36" fill="#44474b"/>
<rect x="1009.6" y="359.2" width="4.2" height="3" fill="#63666a"/>
<rect x="1008.8" y="392.7" width="5.8" height="4" rx="1.5" fill="#4c4f53"/>
<rect x="1030.0" y="359.2" width="4.4" height="36" fill="#44474b"/>
<rect x="1030.0" y="359.2" width="4.2" height="3" fill="#63666a"/>
<rect x="1029.2" y="392.7" width="5.8" height="4" rx="1.5" fill="#4c4f53"/>
<rect x="910.9" y="352.0" width="136.0" height="10" fill="url(#gTopHi)"/>
<rect x="920.3" y="330" width="41.4" height="22" fill="url(#gCap)"/>
<ellipse cx="941.0" cy="351.6" rx="20.7" ry="1.8" fill="#17705f"/>
<ellipse cx="941.0" cy="330.6" rx="20.7" ry="1.6" fill="#14695a"/>
<ellipse cx="1090.8" cy="351.6" rx="20.6" ry="3.2" fill="#1b1c1e"/>
<path d="M1057.2,351.2 H1188.2 Q1191.2,351.2 1191.2,355.2 V432.8 Q1191.2,435.8 1188.2,435.8 H1057.2 Q1054.2,435.8 1054.2,432.8 V355.2 Q1054.2,351.2 1057.2,351.2 Z" fill="#1d1e20"/>
<rect x="1054.5" y="352.0" width="15.8" height="83.4" rx="2.5" fill="url(#gRib)"/>
<rect x="1076.5" y="352.0" width="14.0" height="83.4" rx="2.5" fill="url(#gRib)"/>
<rect x="1097.0" y="352.0" width="14.0" height="83.4" rx="2.5" fill="url(#gRib)"/>
<rect x="1117.4" y="352.0" width="14.0" height="83.4" rx="2.5" fill="url(#gRib)"/>
<rect x="1137.8" y="352.0" width="14.0" height="83.4" rx="2.5" fill="url(#gRib)"/>
<rect x="1158.3" y="352.0" width="14.0" height="83.4" rx="2.5" fill="url(#gRib)"/>
<rect x="1178.8" y="352.0" width="13.3" height="83.4" rx="2.5" fill="url(#gRib)"/>
<rect x="1071.6" y="359.2" width="4.4" height="36" fill="#44474b"/>
<rect x="1071.6" y="359.2" width="4.2" height="3" fill="#63666a"/>
<rect x="1070.8" y="392.7" width="5.8" height="4" rx="1.5" fill="#4c4f53"/>
<rect x="1092.1" y="359.2" width="4.4" height="36" fill="#44474b"/>
<rect x="1092.1" y="359.2" width="4.2" height="3" fill="#63666a"/>
<rect x="1091.3" y="392.7" width="5.8" height="4" rx="1.5" fill="#4c4f53"/>
<rect x="1112.5" y="359.2" width="4.4" height="36" fill="#44474b"/>
<rect x="1112.5" y="359.2" width="4.2" height="3" fill="#63666a"/>
<rect x="1111.7" y="392.7" width="5.8" height="4" rx="1.5" fill="#4c4f53"/>
<rect x="1133.0" y="359.2" width="4.4" height="36" fill="#44474b"/>
<rect x="1133.0" y="359.2" width="4.2" height="3" fill="#63666a"/>
<rect x="1132.2" y="392.7" width="5.8" height="4" rx="1.5" fill="#4c4f53"/>
<rect x="1153.4" y="359.2" width="4.4" height="36" fill="#44474b"/>
<rect x="1153.4" y="359.2" width="4.2" height="3" fill="#63666a"/>
<rect x="1152.6" y="392.7" width="5.8" height="4" rx="1.5" fill="#4c4f53"/>
<rect x="1173.9" y="359.2" width="4.4" height="36" fill="#44474b"/>
<rect x="1173.9" y="359.2" width="4.2" height="3" fill="#63666a"/>
<rect x="1173.1" y="392.7" width="5.8" height="4" rx="1.5" fill="#4c4f53"/>
<rect x="1054.7" y="352.0" width="136.0" height="10" fill="url(#gTopHi)"/>
<rect x="1139" y="330" width="41.4" height="22" fill="url(#gCap)"/>
<ellipse cx="1159.7" cy="351.6" rx="20.7" ry="1.8" fill="#17705f"/>
<ellipse cx="1159.7" cy="330.6" rx="20.7" ry="1.6" fill="#14695a"/>
<rect x="902" y="354.3" width="8.6" height="8.2" fill="url(#gPipeH)"/>
<rect x="1047.2" y="354.3" width="7.4" height="8.2" fill="url(#gPipeH)"/>
<rect x="1190.5" y="356" width="8" height="4.5" fill="#3a3b3d"/>
<rect x="1197.6" y="355.2" width="5" height="6.9" fill="#ef6a22"/>
<rect x="1201.7" y="274.7" width="11" height="87.4" fill="url(#gPipeV)"/>
<path d="M1193.6,273.3 A13.25,10.8 0 0 1 1220.1,273.3 Z" fill="#8f1c1c"/>
<rect x="762.6" y="353.5" width="4" height="9.4" fill="#3a3b3d"/>
<path d="M745,171V334 M773.5,272.4V350 M835.9,213.8V338.5 M880.2,260.4V340.6 M953.6,260.4V329.2 M764.1,502.1L770.8,512.8 M894.8,502.1L888.1,512.8" stroke="#333" stroke-width="0.9" fill="none"/>
<path d="M705.3,178.5H745 M731.3,373H756 M731.3,373V468.7 M728.8,446H753.6 M728.8,468.7H753.6 M744.9,454.4V496.8 M759.3,447.2V496.8 M744.9,474.9H759.3 M900.4,447.2V496.8 M914.3,447.2V491.2 M900.4,474.7H914.3" stroke="#111" stroke-width="1.1" fill="none"/>
<polygon points="705.3,178.5 714.3,176.5 714.3,180.5" fill="#111"/>
<polygon points="745.0,178.5 736.0,180.5 736.0,176.5" fill="#111"/>
<polygon points="731.3,373.0 733.5,382.5 729.1,382.5" fill="#111"/>
<polygon points="731.3,446.0 729.1,436.5 733.5,436.5" fill="#111"/>
<polygon points="731.3,446.5 733.3,453.5 729.3,453.5" fill="#111"/>
<polygon points="731.3,468.7 729.3,461.7 733.3,461.7" fill="#111"/>
<polygon points="744.9,474.9 748.4,473.6 748.4,476.2" fill="#111"/>
<polygon points="759.3,474.9 755.8,476.2 755.8,473.6" fill="#111"/>
<polygon points="900.4,474.7 903.9,473.4 903.9,476.0" fill="#111"/>
<polygon points="914.3,474.7 910.8,476.0 910.8,473.4" fill="#111"/>
<text x="713.4" y="150.3" class="lbl" text-anchor="start" textLength="22.3" lengthAdjust="spacingAndGlyphs">5-15</text>
<text x="713.4" y="162.4" class="lbl" text-anchor="start" textLength="39.4" lengthAdjust="spacingAndGlyphs">метров</text>
<text x="786.2" y="208.5" class="lbl" text-anchor="start" textLength="37.8" lengthAdjust="spacingAndGlyphs">Септик</text>
<text x="829.2" y="208.5" class="lbl" text-anchor="start" textLength="75.8" lengthAdjust="spacingAndGlyphs">«Чисток-9000»</text>
<text x="760.6" y="250.2" class="lbl" text-anchor="start" textLength="27.7" lengthAdjust="spacingAndGlyphs">Слой</text>
<text x="760.6" y="262.2" class="lbl" text-anchor="start" textLength="59.4" lengthAdjust="spacingAndGlyphs">утеплителя</text>
<text x="870.6" y="242.8" class="lbl" text-anchor="start" textLength="84.6" lengthAdjust="spacingAndGlyphs">Грунт (обратная</text>
<text x="870.6" y="254.8" class="lbl" text-anchor="start" textLength="86.0" lengthAdjust="spacingAndGlyphs">засыпка) 500 мм</text>
<text x="668.0" y="409.5" class="lbl" text-anchor="start" textLength="43.4" lengthAdjust="spacingAndGlyphs">1200 мм</text>
<text x="591.7" y="421.7" class="lbl" text-anchor="start" textLength="120.2" lengthAdjust="spacingAndGlyphs">укрепляющая обсыпка</text>
<text x="623.2" y="433.2" class="lbl" text-anchor="start" textLength="88.2" lengthAdjust="spacingAndGlyphs">(песок + цемент)</text>
<text x="617.3" y="456.4" class="lbl" text-anchor="start" textLength="90.1" lengthAdjust="spacingAndGlyphs">100 мм песка для</text>
<text x="639.2" y="468.7" class="lbl" text-anchor="start" textLength="77.5" lengthAdjust="spacingAndGlyphs">выравнивания</text>
<text x="760.9" y="524" class="lbl" text-anchor="start" textLength="134.1" lengthAdjust="spacingAndGlyphs">100 мм расстояние между</text>
<text x="760.9" y="535.7" class="lbl" text-anchor="start" textLength="151.7" lengthAdjust="spacingAndGlyphs">септиком и стеной котлована</text>
<g font-family="Liberation Sans, sans-serif" font-size="20.5" fill="#232a33">
<text x="1052.4" y="177.2" textLength="170.6" lengthAdjust="spacingAndGlyphs">Схема монтажа</text>
<text x="1094.4" y="209.2" textLength="85.8" lengthAdjust="spacingAndGlyphs">септика</text>
<text x="1056" y="242" textLength="162.6" lengthAdjust="spacingAndGlyphs">«Чисток-9000»</text>
</g>
<rect x="675" y="537" width="10" height="2" fill="#efe8da" transform="rotate(-3 680 538)"/>
<rect x="668" y="603" width="17" height="3.4" fill="#f6f2ea"/>
<rect x="948" y="535" width="26" height="3.5" fill="#ebe0c8" transform="rotate(-14 961 537)"/>
</g>
</svg>
</body>
</html>
